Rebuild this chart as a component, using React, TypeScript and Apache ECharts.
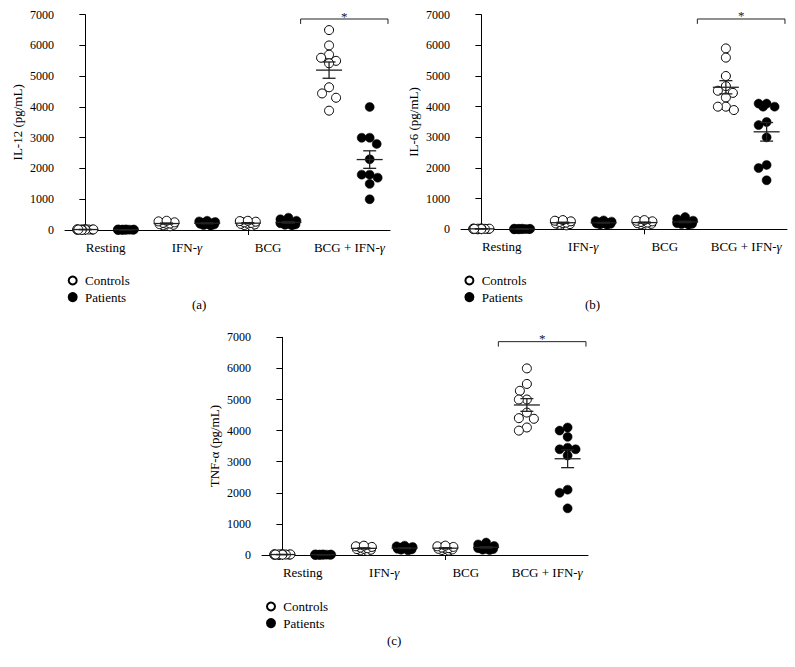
import React, { useEffect, useRef } from "react";
import * as echarts from "echarts";

// ---------- data ----------
const stimuli = ["Resting", "IFN-γ", "BCG", "BCG + IFN-γ"];
const groupNames = ["Controls", "Patients"];
const panelLetters = ["(a)", "(b)", "(c)"];
const yAxisTitles = ["IL-12 (pg/mL)", "IL-6 (pg/mL)", "TNF-α (pg/mL)"];
const yMin = 0;
const yMax = 7000;
const yStep = 1000;
const sigPairs = [[6, 7]];
const sigMark = "*";

const il12Controls = [
  [5, 10, 15, 20, 25, 30, 10, 20, 0, 15],
  [120, 150, 170, 190, 200, 210, 230, 250, 280, 300],
  [130, 160, 180, 200, 210, 230, 250, 270, 290, 300],
  [6500, 6000, 5700, 5600, 5500, 5420, 4640, 4440, 4300, 3880],
];
const il12Patients = [
  [0, 5, 10, 15, 20, 10, 5, 15, 20, 0],
  [140, 160, 180, 200, 210, 220, 240, 260, 280, 300],
  [150, 170, 180, 200, 220, 240, 260, 300, 350, 400],
  [4000, 3000, 3000, 2800, 2300, 1800, 1800, 1700, 1500, 1000],
];
const il6Controls = [
  [0, 10, 20, 15, 25, 30, 5, 20, 10, 15],
  [130, 150, 170, 190, 200, 220, 240, 260, 280, 300],
  [140, 160, 180, 200, 210, 220, 240, 260, 280, 300],
  [5900, 5600, 5000, 4670, 4520, 4450, 4300, 4000, 4000, 3890],
];
const il6Patients = [
  [0, 5, 10, 15, 20, 10, 5, 15, 20, 0],
  [150, 160, 180, 190, 200, 210, 230, 250, 270, 290],
  [150, 170, 180, 200, 220, 230, 250, 280, 330, 400],
  [4100, 4100, 4000, 4000, 3500, 3400, 3000, 2100, 2000, 1600],
];
const tnfControls = [
  [10, 5, 20, 15, 25, 30, 0, 20, 10, 15],
  [130, 150, 170, 190, 200, 220, 240, 260, 280, 300],
  [140, 160, 180, 200, 210, 220, 240, 260, 280, 300],
  [6000, 5500, 5280, 5000, 5000, 4580, 4400, 4380, 4100, 4000],
];
const tnfPatients = [
  [0, 5, 10, 15, 20, 10, 5, 15, 20, 0],
  [150, 170, 180, 200, 210, 220, 240, 260, 280, 300],
  [160, 170, 190, 200, 220, 230, 250, 290, 340, 400],
  [4100, 4000, 3800, 3450, 3400, 3400, 3200, 2100, 2000, 1500],
];

const panelControls = [il12Controls, il6Controls, tnfControls];
const panelPatients = [il12Patients, il6Patients, tnfPatients];

// ---------- layout ----------
const FONT = "'Liberation Serif', 'Times New Roman', serif";
const INK = "#000000";
const grids = [
  { left: 65, top: 14.7, width: 325, height: 215.3 },
  { left: 461, top: 14.7, width: 326, height: 214.6 },
  { left: 262, top: 337.3, width: 326, height: 217.7 },
];
const legendPos = [
  { left: 62.7, top: 269 },
  { left: 459.4, top: 269 },
  { left: 261, top: 595 },
];
const letterPos = [
  [200, 306],
  [593, 306],
  [395, 642],
];

function meanSem(v: number[]) {
  const n = v.length;
  const m = v.reduce((a, b) => a + b, 0) / n;
  const sd = Math.sqrt(v.reduce((a, b) => a + (b - m) * (b - m), 0) / (n - 1));
  return [m, sd / Math.sqrt(n)];
}

// simple beeswarm: returns x offsets (px) for each value
function swarm(values: number[], pxPerUnit: number) {
  const order = values.map((v, i) => i).sort((a, b) => values[b] - values[a]);
  const D = 9;
  const fit = [0, -7, 7, -8, 8];
  const all = [0, -3.5, 3.5, -7, 7, -8, 8];
  const placed: { x: number; y: number }[] = [];
  const out = new Array(values.length).fill(0);
  const minDist = (x: number, y: number) => {
    let d = Infinity;
    for (const p of placed) d = Math.min(d, Math.hypot(p.x - x, p.y - y));
    return d;
  };
  for (const i of order) {
    const y = values[i] * pxPerUnit;
    let chosen: number | null = null;
    for (const c of fit) {
      if (minDist(c, y) >= D) {
        chosen = c;
        break;
      }
    }
    if (chosen === null) {
      let best = -1;
      for (const c of all) {
        const d = minDist(c, y);
        if (d > best + 0.01) {
          best = d;
          chosen = c;
        }
      }
    }
    placed.push({ x: chosen as number, y });
    out[i] = chosen;
  }
  return out;
}

function buildOption() {
  const xAxis: any[] = [];
  const yAxis: any[] = [];
  const series: any[] = [];
  const legend: any[] = [];
  const graphic: any[] = [];
  const slotNames = stimuli.flatMap((s) => groupNames.map((g) => s + " " + g));
  const legendText = { fontFamily: FONT, fontSize: 13, color: INK };

  grids.forEach((g, p) => {
    const pxPerUnit = g.height / (yMax - yMin);
    const pxPerCat = g.width / slotNames.length;
    xAxis.push({
      type: "category",
      gridIndex: p,
      position: "bottom",
      data: slotNames,
      boundaryGap: true,
      axisLine: { show: true, lineStyle: { color: INK, width: 1 } },
      axisTick: { show: true, alignWithLabel: true, length: 5, lineStyle: { color: INK } },
      axisLabel: { show: false },
      splitLine: { show: false },
    });
    xAxis.push({
      type: "category",
      gridIndex: p,
      position: "bottom",
      offset: 0,
      data: stimuli,
      boundaryGap: true,
      axisLine: { show: false },
      axisTick: { show: false },
      axisLabel: {
        show: true,
        interval: 0,
        margin: 11,
        color: INK,
        fontFamily: FONT,
        fontSize: 13,
        formatter: (v: string) => v.replace("γ", "{i|γ}"),
        rich: { i: { fontFamily: FONT, fontSize: 13, fontStyle: "italic", color: INK } },
      },
      splitLine: { show: false },
    });
    xAxis.push({ type: "value", gridIndex: p, position: "bottom", show: false, min: -0.5, max: slotNames.length - 0.5 });
    yAxis.push({
      type: "value",
      gridIndex: p,
      min: yMin,
      max: yMax,
      interval: yStep,
      name: yAxisTitles[p],
      nameLocation: "middle",
      nameGap: 41,
      nameTextStyle: { fontFamily: FONT, fontSize: 13, color: INK },
      axisLine: { show: true, lineStyle: { color: INK, width: 1 } },
      axisTick: { show: true, length: 6, lineStyle: { color: INK } },
      axisLabel: { margin: 11, fontFamily: FONT, fontSize: 12, color: INK, formatter: (v: number) => String(v) },
      splitLine: { show: false },
    });

    const xIdx = p * 3 + 2;
    const stats: number[][] = [];
    [panelControls[p], panelPatients[p]].forEach((groupData, gi) => {
      const pts: number[][] = [];
      groupData.forEach((vals, si) => {
        const slot = si * 2 + gi;
        const offs = swarm(vals, pxPerUnit);
        vals.forEach((v, k) => pts.push([slot + offs[k] / pxPerCat, v]));
        const [m, s] = meanSem(vals);
        stats.push([slot, m, s]);
      });
      series.push({
        type: "scatter",
        name: groupNames[gi],
        xAxisIndex: xIdx,
        yAxisIndex: p,
        symbol: "circle",
        symbolSize: 9,
        z: 3,
        itemStyle:
          gi === 0
            ? { color: "#ffffff", borderColor: INK, borderWidth: 1, opacity: 1 }
            : { color: "#000000", borderColor: "#000000", borderWidth: 0.5, opacity: 1 },
        emphasis: { disabled: true },
        data: pts,
      });
    });

    series.push({
      type: "custom",
      name: "mean ± SEM",
      xAxisIndex: xIdx,
      yAxisIndex: p,
      z: 5,
      silent: true,
      data: stats,
      renderItem: (params: any, api: any) => {
        const x = api.value(0);
        const m = api.value(1);
        const s = api.value(2);
        const c = api.coord([x, m]);
        const t = api.coord([x, m + s]);
        const b = api.coord([x, m - s]);
        const st = { stroke: "#222", lineWidth: 1.3 };
        return {
          type: "group",
          children: [
            { type: "line", shape: { x1: c[0] - 13, y1: c[1], x2: c[0] + 13, y2: c[1] }, style: st },
            { type: "line", shape: { x1: c[0], y1: t[1], x2: c[0], y2: b[1] }, style: st },
            { type: "line", shape: { x1: c[0] - 6.5, y1: t[1], x2: c[0] + 6.5, y2: t[1] }, style: st },
            { type: "line", shape: { x1: c[0] - 6.5, y1: b[1], x2: c[0] + 6.5, y2: b[1] }, style: st },
          ],
        };
      },
    });

    series.push({
      type: "custom",
      name: "significance",
      xAxisIndex: xIdx,
      yAxisIndex: p,
      z: 5,
      silent: true,
      clip: false,
      data: sigPairs,
      renderItem: (params: any, api: any) => {
        const a = api.value(0);
        const b = api.value(1);
        const yLine = 6860;
        const p1 = api.coord([a - 0.7, yLine]);
        const p2 = api.coord([b + 0.45, yLine]);
        const drop = api.coord([a, yLine - 160])[1];
        const st = { stroke: "#222", lineWidth: 1, fill: null };
        return {
          type: "group",
          children: [
            {
              type: "polyline",
              shape: { points: [[p1[0], drop], [p1[0], p1[1]], [p2[0], p2[1]], [p2[0], drop]] },
              style: st,
            },
            {
              type: "text",
              style: {
                text: sigMark,
                x: (p1[0] + p2[0]) / 2,
                y: p1[1] - 3,
                align: "center",
                verticalAlign: "middle",
                fontFamily: FONT,
                fontSize: 13,
                fill: "#222",
              },
            },
          ],
        };
      },
    });

    legend.push({
      orient: "vertical",
      left: legendPos[p].left,
      top: legendPos[p].top,
      data: groupNames.map((n) => ({ name: n, textStyle: legendText })),
      itemWidth: 14.6,
      itemHeight: 8,
      itemGap: 3.6,
      selectedMode: false,
      textStyle: legendText,
      icon: "circle",
    });

    graphic.push({
      type: "text",
      left: letterPos[p][0] - 8,
      top: letterPos[p][1] - 8,
      style: { text: panelLetters[p], fontFamily: FONT, fontSize: 13, fill: INK },
    });
  });

  return {
    animation: false,
    backgroundColor: "#ffffff",
    textStyle: { fontFamily: FONT, color: INK },
    grid: grids.map((g) => ({ ...g, containLabel: false })),
    xAxis,
    yAxis,
    series,
    legend,
    graphic,
    tooltip: { show: false },
  };
}

export default function App() {
  const ref = useRef<HTMLDivElement>(null);
  useEffect(() => {
    document.body.style.margin = "0";
    if (!ref.current) return;
    const chart = echarts.init(ref.current, null, { renderer: "svg" });
    chart.setOption(buildOption() as any);
    return () => chart.dispose();
  }, []);
  return <div ref={ref} style={{ width: 795, height: 667, background: "#fff" }} />;
}
